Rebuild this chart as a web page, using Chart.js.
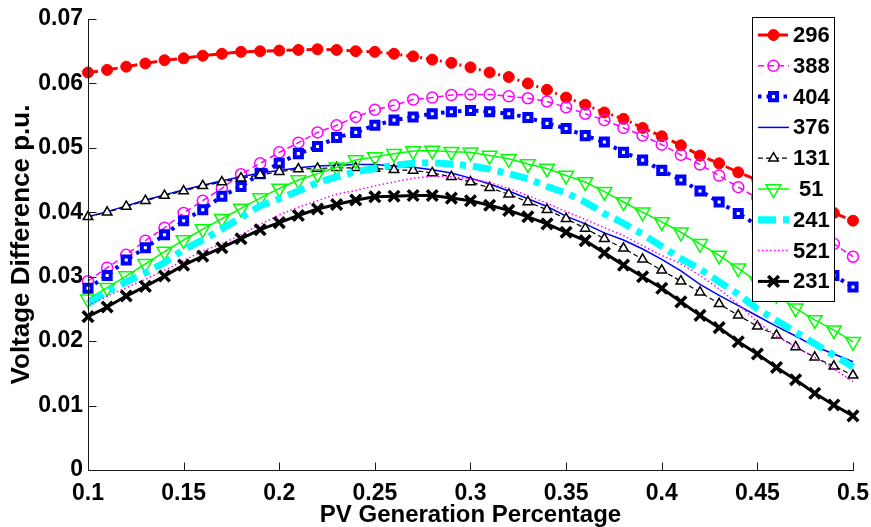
<!DOCTYPE html>
<html>
<head>
<meta charset="utf-8">
<script src="https://cdn.jsdelivr.net/npm/chart.js@4.4.1/dist/chart.umd.min.js"></script>
<style>
html, body { margin: 0; padding: 0; background: #fff; }
#wrap { width: 871px; height: 527px; position: relative; }
</style>
</head>
<body>
<div id="wrap"><canvas id="chart"></canvas></div>
<script>
// PV generation share (x) and voltage difference per bus (p.u.)
const pvShare = [0.10, 0.11, 0.12, 0.13, 0.14, 0.15, 0.16, 0.17, 0.18, 0.19, 0.20,
                 0.21, 0.22, 0.23, 0.24, 0.25, 0.26, 0.27, 0.28, 0.29, 0.30,
                 0.31, 0.32, 0.33, 0.34, 0.35, 0.36, 0.37, 0.38, 0.39, 0.40,
                 0.41, 0.42, 0.43, 0.44, 0.45, 0.46, 0.47, 0.48, 0.49, 0.50];

const bus296 = [0.0617, 0.0621, 0.0626, 0.0631, 0.0636, 0.0639, 0.0643, 0.0646, 0.0649, 0.0650, 0.0651,
                0.0652, 0.0653, 0.0652, 0.0650, 0.0649, 0.0646, 0.0642, 0.0637, 0.0632, 0.0625,
                0.0617, 0.0610, 0.0600, 0.0590, 0.0578, 0.0567, 0.0555, 0.0545, 0.0531, 0.0518,
                0.0504, 0.0488, 0.0476, 0.0462, 0.0450, 0.0437, 0.0424, 0.0411, 0.0399, 0.0387];
const bus388 = [0.0293, 0.0314, 0.0334, 0.0356, 0.0376, 0.0399, 0.0418, 0.0437, 0.0459, 0.0476, 0.0493,
                0.0508, 0.0524, 0.0535, 0.0548, 0.0559, 0.0566, 0.0575, 0.0578, 0.0582, 0.0583,
                0.0583, 0.0580, 0.0577, 0.0572, 0.0563, 0.0553, 0.0543, 0.0531, 0.0519, 0.0505,
                0.0489, 0.0474, 0.0457, 0.0439, 0.0422, 0.0405, 0.0387, 0.0369, 0.0351, 0.0331];
const bus404 = [0.0282, 0.0302, 0.0326, 0.0345, 0.0365, 0.0387, 0.0404, 0.0425, 0.0440, 0.0460, 0.0476,
                0.0491, 0.0502, 0.0516, 0.0524, 0.0535, 0.0543, 0.0548, 0.0553, 0.0556, 0.0558,
                0.0556, 0.0553, 0.0547, 0.0538, 0.0530, 0.0519, 0.0509, 0.0493, 0.0481, 0.0465,
                0.0450, 0.0433, 0.0416, 0.0398, 0.0380, 0.0361, 0.0343, 0.0324, 0.0302, 0.0284];
const bus376 = [0.0393, 0.0401, 0.0410, 0.0419, 0.0427, 0.0435, 0.0442, 0.0449, 0.0455, 0.0461, 0.0465,
                0.0469, 0.0472, 0.0473, 0.0474, 0.0474, 0.0472, 0.0470, 0.0466, 0.0461, 0.0453,
                0.0444, 0.0433, 0.0421, 0.0409, 0.0394, 0.0382, 0.0368, 0.0357, 0.0343, 0.0327,
                0.0309, 0.0288, 0.0271, 0.0255, 0.0239, 0.0223, 0.0208, 0.0192, 0.0180, 0.0168];
const bus131 = [0.0393, 0.0400, 0.0409, 0.0418, 0.0426, 0.0433, 0.0441, 0.0447, 0.0453, 0.0458, 0.0463,
                0.0467, 0.0468, 0.0469, 0.0469, 0.0468, 0.0466, 0.0465, 0.0461, 0.0455, 0.0447,
                0.0438, 0.0428, 0.0416, 0.0404, 0.0390, 0.0375, 0.0359, 0.0344, 0.0327, 0.0310,
                0.0293, 0.0276, 0.0258, 0.0240, 0.0223, 0.0209, 0.0191, 0.0175, 0.0161, 0.0147];
const bus51  = [0.0265, 0.0283, 0.0301, 0.0320, 0.0339, 0.0357, 0.0374, 0.0390, 0.0406, 0.0422, 0.0437,
                0.0450, 0.0460, 0.0470, 0.0481, 0.0486, 0.0491, 0.0495, 0.0496, 0.0494, 0.0493,
                0.0488, 0.0483, 0.0475, 0.0468, 0.0457, 0.0447, 0.0432, 0.0416, 0.0400, 0.0385,
                0.0369, 0.0351, 0.0333, 0.0313, 0.0292, 0.0272, 0.0251, 0.0233, 0.0217, 0.0199];
const bus241 = [0.0258, 0.0277, 0.0292, 0.0306, 0.0322, 0.0342, 0.0357, 0.0374, 0.0392, 0.0410, 0.0421,
                0.0433, 0.0446, 0.0455, 0.0463, 0.0468, 0.0473, 0.0476, 0.0477, 0.0475, 0.0472,
                0.0467, 0.0460, 0.0452, 0.0440, 0.0430, 0.0416, 0.0398, 0.0383, 0.0366, 0.0347,
                0.0328, 0.0312, 0.0292, 0.0273, 0.0250, 0.0232, 0.0214, 0.0196, 0.0178, 0.0160];
const bus521 = [0.0255, 0.0270, 0.0283, 0.0296, 0.0310, 0.0325, 0.0340, 0.0351, 0.0365, 0.0381, 0.0396,
                0.0408, 0.0418, 0.0428, 0.0434, 0.0441, 0.0447, 0.0453, 0.0456, 0.0455, 0.0452,
                0.0446, 0.0437, 0.0426, 0.0414, 0.0401, 0.0389, 0.0376, 0.0364, 0.0348, 0.0333,
                0.0320, 0.0302, 0.0281, 0.0257, 0.0230, 0.0208, 0.0191, 0.0175, 0.0157, 0.0137];
const bus231 = [0.0238, 0.0253, 0.0270, 0.0285, 0.0301, 0.0318, 0.0332, 0.0345, 0.0359, 0.0373, 0.0384,
                0.0395, 0.0405, 0.0412, 0.0419, 0.0424, 0.0425, 0.0426, 0.0426, 0.0422, 0.0418,
                0.0411, 0.0403, 0.0393, 0.0382, 0.0369, 0.0356, 0.0337, 0.0318, 0.0300, 0.0282,
                0.0261, 0.0240, 0.0221, 0.0199, 0.0180, 0.0159, 0.0140, 0.0119, 0.0101, 0.0084];

const xTicks = [0.1, 0.15, 0.2, 0.25, 0.3, 0.35, 0.4, 0.45, 0.5];
const yTicks = [0, 0.01, 0.02, 0.03, 0.04, 0.05, 0.06, 0.07];

const FONT = "'Liberation Sans', Arial, Helvetica, sans-serif";

function pts(values) {
    return values.map((v, i) => ({ x: pvShare[i], y: v }));
}

function series(label, values, style) {
    return Object.assign({
        label: label,
        data: pts(values),
        fill: false,
        tension: 0,
        clip: false,
        pointRadius: 0,
        pointHoverRadius: 0,
        pointBorderWidth: 1,
        pointBackgroundColor: 'rgba(0,0,0,0)'
    }, style);
}

const datasets = [
    series('296', bus296, { borderColor: '#ff0000', borderWidth: 3, borderDash: [10, 4, 2, 4],
        pointStyle: 'circle', pointRadius: 5.5, pointBorderColor: '#ff0000', pointBackgroundColor: '#ff0000' }),
    series('388', bus388, { borderColor: '#ff00ff', borderWidth: 1.5, borderDash: [6, 4],
        pointStyle: 'circle', pointRadius: 5.5, pointBorderColor: '#ff00ff', pointBorderWidth: 1.5 }),
    series('404', bus404, { borderColor: '#0000ff', borderWidth: 4, borderDash: [3.5, 5],
        pointStyle: 'rect', pointRadius: 5, pointBorderColor: '#0000ff', pointBorderWidth: 4, pointBackgroundColor: '#ffffff' }),
    series('376', bus376, { borderColor: '#0000ff', borderWidth: 1.5 }),
    series('131', bus131, { borderColor: '#000000', borderWidth: 1.2, borderDash: [5, 3],
        pointStyle: 'triangle', pointRadius: 5.5, pointBorderColor: '#000000', pointBorderWidth: 1.5, pointBackgroundColor: '#ffffff' }),
    series(' 51', bus51, { borderColor: '#00ff00', borderWidth: 1.5,
        pointStyle: 'triangle', pointRotation: 180, pointRadius: 8.5, pointBorderColor: '#00ff00', pointBorderWidth: 1.5 }),
    series('241', bus241, { borderColor: '#00ffff', borderWidth: 7, borderDash: [18, 7, 6, 7] }),
    series('521', bus521, { borderColor: '#ff00ff', borderWidth: 1.5, borderDash: [1.5, 2.5] }),
    series('231', bus231, { borderColor: '#000000', borderWidth: 3,
        pointStyle: 'crossRot', pointRadius: 7.5, pointBorderColor: '#000000', pointBorderWidth: 3.5 })
];
// later series on top, like the original plot
datasets.forEach((d, i) => { d.order = datasets.length - i; });

// axis lines with inward tick marks
const inwardAxes = {
    id: 'inwardAxes',
    afterDatasetsDraw(chart) {
        const { ctx, chartArea: a, scales: { x, y } } = chart;
        ctx.save();
        ctx.strokeStyle = '#1a1a1a';
        ctx.lineWidth = 1;
        ctx.beginPath();
        const bx = Math.round(a.left) + 0.5, by = Math.round(a.bottom) + 0.5;
        ctx.moveTo(bx, Math.round(a.top));
        ctx.lineTo(bx, by);
        ctx.lineTo(Math.round(a.right) + 1, by);
        xTicks.forEach(v => {
            const px = Math.round(x.getPixelForValue(v)) + 0.5;
            ctx.moveTo(px, by);
            ctx.lineTo(px, by - 8);
        });
        yTicks.forEach(v => {
            const py = Math.round(y.getPixelForValue(v)) + 0.5;
            ctx.moveTo(bx, py);
            ctx.lineTo(bx + 8, py);
        });
        ctx.stroke();
        ctx.restore();
    }
};

// boxed legend in the upper right corner, line sample + marker
const boxLegend = {
    id: 'boxLegend',
    afterDraw(chart) {
        const ctx = chart.ctx;
        const left = 752.5, top = 17.5, w = 82, h = 284;
        ctx.save();
        ctx.fillStyle = '#ffffff';
        ctx.fillRect(left, top, w, h);
        ctx.strokeStyle = '#000000';
        ctx.lineWidth = 1;
        ctx.strokeRect(left, top, w, h);

        chart.data.datasets.forEach((ds, i) => {
            const cy = 35 + i * 30.8;
            ctx.save();
            ctx.strokeStyle = ds.borderColor;
            ctx.lineWidth = ds.borderWidth;
            ctx.setLineDash(ds.borderDash || []);
            ctx.beginPath();
            ctx.moveTo(758, cy);
            ctx.lineTo(789, cy);
            ctx.stroke();
            ctx.restore();

            if (ds.pointRadius > 0) {
                ctx.save();
                ctx.strokeStyle = ds.pointBorderColor;
                ctx.fillStyle = ds.pointBackgroundColor;
                ctx.lineWidth = ds.pointBorderWidth;
                Chart.helpers.drawPoint(ctx, {
                    pointStyle: ds.pointStyle,
                    radius: ds.pointRadius,
                    rotation: ds.pointRotation || 0,
                    borderWidth: ds.pointBorderWidth
                }, 773.5, cy);
                ctx.restore();
            }

            ctx.fillStyle = '#000000';
            ctx.font = 'bold 22px ' + FONT;
            ctx.textAlign = 'left';
            ctx.textBaseline = 'middle';
            ctx.fillText(ds.label, 793, cy + 1);
        });
        ctx.restore();
    }
};

new Chart(document.getElementById('chart'), {
    type: 'line',
    data: { datasets: datasets },
    options: {
        responsive: true,
        maintainAspectRatio: false,
        animation: false,
        events: [],
        layout: { padding: { top: 19, right: 18, bottom: 0, left: 0 } },
        plugins: {
            legend: { display: false },
            tooltip: { enabled: false }
        },
        scales: {
            x: {
                type: 'linear',
                min: 0.1,
                max: 0.5,
                afterBuildTicks: s => { s.ticks = xTicks.map(v => ({ value: v })); },
                afterFit: s => { s.height = 57; s.paddingLeft = 0; s.paddingRight = 0; },
                grid: { display: false, drawTicks: false },
                border: { display: false },
                ticks: {
                    padding: 10,
                    maxRotation: 0,
                    autoSkip: false,
                    color: '#000',
                    font: { family: FONT, size: 23, weight: 'bold' },
                    callback: v => String(+v.toFixed(2))
                },
                title: {
                    display: true,
                    text: 'PV Generation Percentage',
                    color: '#000',
                    padding: { top: 0, bottom: 0 },
                    font: { family: FONT, size: 24, weight: 'bold', lineHeight: 1 }
                }
            },
            y: {
                type: 'linear',
                min: 0,
                max: 0.07,
                afterBuildTicks: s => { s.ticks = yTicks.map(v => ({ value: v })); },
                afterFit: s => { s.width = 88; s.paddingTop = 0; s.paddingBottom = 0; },
                grid: { display: false, drawTicks: false },
                border: { display: false },
                ticks: {
                    padding: 5,
                    autoSkip: false,
                    color: '#000',
                    font: { family: FONT, size: 23, weight: 'bold' },
                    callback: v => (v === 0 ? '0' : v.toFixed(2))
                },
                title: {
                    display: true,
                    text: 'Voltage Difference p.u.',
                    color: '#000',
                    padding: { top: 9, bottom: 0 },
                    font: { family: FONT, size: 26, weight: 'bold', lineHeight: 1 }
                }
            }
        }
    },
    plugins: [inwardAxes, boxLegend]
});
</script>
</body>
</html>
